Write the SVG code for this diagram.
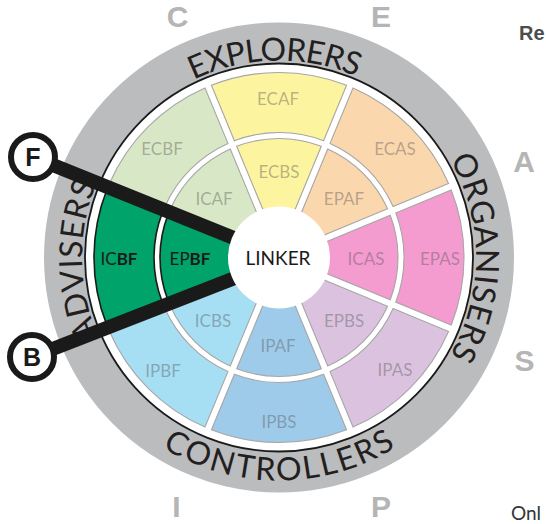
<svg xmlns="http://www.w3.org/2000/svg" xmlns:xlink="http://www.w3.org/1999/xlink" width="546" height="524" viewBox="0 0 546 524">
<style>
.seg{stroke:#a6a6a6;stroke-width:1.1}
.grn{fill:#00a36a;stroke:#1a1a1a;stroke-width:1.6}
.yel{fill:#fdf49f}.org{fill:#fbd7ae}.pnk{fill:#f49bd0}.lav{fill:#dbc3df}
.blu{fill:#9fcbea}.cya{fill:#a6def3}.lgr{fill:#d8e8c6}
.lbl{font-family:Lato,"Liberation Sans",sans-serif;font-size:17px;fill:#555;fill-opacity:.42;text-anchor:middle}
.glbl{font-family:Lato,"Liberation Sans",sans-serif;font-size:17px;fill:#1a1a1a;text-anchor:middle}
.ring{font-family:Lato,"Liberation Sans",sans-serif;font-size:32px;fill:#231f20}
.big{font-family:"Liberation Sans",Arial,sans-serif;font-weight:bold;font-size:30px;fill:#b5b5b5;text-anchor:middle}
.bar{stroke:#1a1a1a;stroke-width:14;stroke-linecap:butt}
.tag{fill:#fff;stroke:#1a1a1a;stroke-width:6}
.tagt{font-family:"Liberation Sans",Arial,sans-serif;font-weight:bold;font-size:25px;fill:#1a1a1a;text-anchor:middle}
</style>
<defs>
<path id="outerSeg" d="M116.78,-44.58 L172.23,-67.55 A185,185 0 0 1 172.23,67.55 L116.78,44.58 A125,125 0 0 0 116.78,-44.58Z"/>
<path id="innerSeg" d="M43.71,-14.32 L111.23,-42.29 A119,119 0 0 1 111.23,42.29 L43.71,14.32 A46,46 0 0 0 43.71,-14.32Z"/>
<path id="arcTop" d="M82,257.5 A197,197 0 0 1 476,257.5"/>
<path id="arcRight" d="M279,60.5 A197,197 0 0 1 279,454.5"/>
<path id="arcLeft" d="M279,454.5 A197,197 0 0 1 279,60.5"/>
<path id="arcBottom" d="M56,257.5 A223,223 0 0 0 502,257.5"/>
</defs>
<rect width="546" height="524" fill="#fff"/>

<g id="ring">
<circle cx="279" cy="257.5" r="214.5" fill="none" stroke="#bbbcbe" stroke-width="41"/>
<circle cx="279" cy="257.5" r="194" fill="none" stroke="#1a1a1a" stroke-width="1.8"/>
<text class="ring"><textPath href="#arcTop" xlink:href="#arcTop" startOffset="49.3%" text-anchor="middle" textLength="168" lengthAdjust="spacing">EXPLORERS</textPath></text>
<text class="ring"><textPath href="#arcRight" xlink:href="#arcRight" startOffset="50%" text-anchor="middle" textLength="205" lengthAdjust="spacing">ORGANISERS</textPath></text>
<text class="ring"><textPath href="#arcLeft" xlink:href="#arcLeft" startOffset="49.6%" text-anchor="middle" textLength="155" lengthAdjust="spacing">ADVISERS</textPath></text>
<text class="ring"><textPath href="#arcBottom" xlink:href="#arcBottom" startOffset="50%" text-anchor="middle" textLength="246" lengthAdjust="spacing">CONTROLLERS</textPath></text>
</g>

<g id="ECAF"><use href="#outerSeg" xlink:href="#outerSeg" class="seg yel" transform="translate(279,257.5) rotate(270)"/><text class="lbl" x="278" y="105">ECAF</text></g>
<g id="ECAS"><use href="#outerSeg" xlink:href="#outerSeg" class="seg org" transform="translate(279,257.5) rotate(315)"/><text class="lbl" x="395" y="155">ECAS</text></g>
<g id="EPAS"><use href="#outerSeg" xlink:href="#outerSeg" class="seg pnk" transform="translate(279,257.5) rotate(0)"/><text class="lbl" x="440" y="265">EPAS</text></g>
<g id="IPAS"><use href="#outerSeg" xlink:href="#outerSeg" class="seg lav" transform="translate(279,257.5) rotate(45)"/><text class="lbl" x="395" y="376">IPAS</text></g>
<g id="IPBS"><use href="#outerSeg" xlink:href="#outerSeg" class="seg blu" transform="translate(279,257.5) rotate(90)"/><text class="lbl" x="279" y="428">IPBS</text></g>
<g id="IPBF"><use href="#outerSeg" xlink:href="#outerSeg" class="seg cya" transform="translate(279,257.5) rotate(135)"/><text class="lbl" x="163" y="377">IPBF</text></g>
<g id="ICBF"><use href="#outerSeg" xlink:href="#outerSeg" class="grn" transform="translate(279,257.5) rotate(180)"/><text class="glbl" x="119" y="265">IC<tspan font-weight="bold">BF</tspan></text></g>
<g id="ECBF"><use href="#outerSeg" xlink:href="#outerSeg" class="seg lgr" transform="translate(279,257.5) rotate(225)"/><text class="lbl" x="162" y="155">ECBF</text></g>

<g id="ECBS"><use href="#innerSeg" xlink:href="#innerSeg" class="seg yel" transform="translate(279,257.5) rotate(270)"/><text class="lbl" x="279" y="178">ECBS</text></g>
<g id="EPAF"><use href="#innerSeg" xlink:href="#innerSeg" class="seg org" transform="translate(279,257.5) rotate(315)"/><text class="lbl" x="344" y="205">EPAF</text></g>
<g id="ICAS"><use href="#innerSeg" xlink:href="#innerSeg" class="seg pnk" transform="translate(279,257.5) rotate(0)"/><text class="lbl" x="366" y="265">ICAS</text></g>
<g id="EPBS"><use href="#innerSeg" xlink:href="#innerSeg" class="seg lav" transform="translate(279,257.5) rotate(45)"/><text class="lbl" x="344" y="327">EPBS</text></g>
<g id="IPAF"><use href="#innerSeg" xlink:href="#innerSeg" class="seg blu" transform="translate(279,257.5) rotate(90)"/><text class="lbl" x="278" y="352">IPAF</text></g>
<g id="ICBS"><use href="#innerSeg" xlink:href="#innerSeg" class="seg cya" transform="translate(279,257.5) rotate(135)"/><text class="lbl" x="213" y="327">ICBS</text></g>
<g id="EPBF"><use href="#innerSeg" xlink:href="#innerSeg" class="grn" transform="translate(279,257.5) rotate(180)"/><text class="glbl" x="190" y="265">EP<tspan font-weight="bold">BF</tspan></text></g>
<g id="ICAF"><use href="#innerSeg" xlink:href="#innerSeg" class="seg lgr" transform="translate(279,257.5) rotate(225)"/><text class="lbl" x="214" y="205">ICAF</text></g>

<g id="connectors">
<line class="bar" x1="33" y1="157" x2="240" y2="240.5"/>
<line class="bar" x1="32" y1="357" x2="240" y2="276"/>
</g>

<g id="LINKER">
<circle cx="279" cy="257.5" r="51" fill="#fff"/>
<text x="278" y="265" font-family="Lato,'Liberation Sans',sans-serif" font-size="19" fill="#1a1a1a" text-anchor="middle">LINKER</text>
</g>

<g id="F"><circle class="tag" cx="33" cy="157" r="22"/><text class="tagt" x="33" y="166">F</text></g>
<g id="B"><circle class="tag" cx="32" cy="357" r="22"/><text class="tagt" x="32" y="366">B</text></g>

<g id="letters">
<text class="big" x="177.5" y="27">C</text>
<text class="big" x="381" y="27">E</text>
<text class="big" x="524" y="172">A</text>
<text class="big" x="524.5" y="371">S</text>
<text class="big" x="176.5" y="517">I</text>
<text class="big" x="381" y="517">P</text>
</g>
<text x="519" y="40" font-family="'Liberation Sans',Arial,sans-serif" font-weight="bold" font-size="20" fill="#4d4d4d">Re</text>
<text x="511" y="520" font-family="Lato,'Liberation Sans',sans-serif" font-size="19" fill="#333">Onl</text>
</svg>
